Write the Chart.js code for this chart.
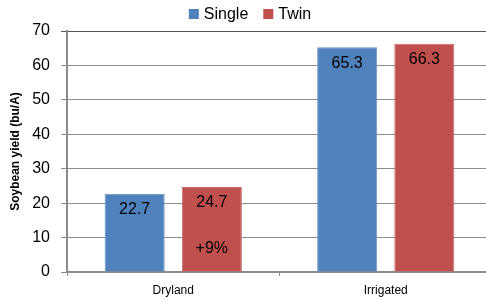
<!DOCTYPE html>
<html>
<head>
<meta charset="utf-8">
<script src="https://cdn.jsdelivr.net/npm/chart.js@4"></script>
<style>
  html, body { margin: 0; padding: 0; background: #fff; overflow: hidden; }
  #wrap { width: 492px; height: 300px; }
</style>
</head>
<body>
<div id="wrap"><canvas id="c" width="492" height="300"></canvas></div>
<script>
'use strict';

/* ── data ── */
const categories  = ['Dryland', 'Irrigated'];
const singleYield = [22.7, 65.3];
const twinYield   = [24.7, 66.3];
const twinNotes   = ['+9%', ''];
const yTicks      = [0, 10, 20, 30, 40, 50, 60, 70];

const FONT  = '"Liberation Sans", Arial, sans-serif';
const GRID  = '#8c8c8c';

/* ── value labels inside bars + note ── */
const barLabels = {
  id: 'barLabels',
  afterDatasetsDraw(chart) {
    const ctx = chart.ctx;
    ctx.save();
    ctx.fillStyle = '#000';
    ctx.font = '16px ' + FONT;
    ctx.textAlign = 'center';
    ctx.textBaseline = 'middle';
    chart.data.datasets.forEach((ds, di) => {
      chart.getDatasetMeta(di).data.forEach((bar, i) => {
        ctx.fillText(ds.data[i].toFixed(1), bar.x, bar.y + 16);
        if (ds.notes && ds.notes[i]) ctx.fillText(ds.notes[i], bar.x, bar.base - 23);
      });
    });
    ctx.restore();
  }
};

/* ── legend drawn by hand so the plot area stays put ── */
const topLegend = {
  id: 'topLegend',
  afterDraw(chart) {
    const ctx = chart.ctx;
    ctx.save();
    ctx.font = '16px ' + FONT;
    ctx.textBaseline = 'middle';
    const items = chart.data.datasets.map(ds => ({ text: ds.label, color: ds.backgroundColor, w: ctx.measureText(ds.label).width }));
    const total = items.reduce((s, it) => s + 15 + it.w, 0) + 15 * (items.length - 1);
    let x = 250 - total / 2;
    items.forEach(it => {
      ctx.fillStyle = it.color;
      ctx.fillRect(x, 9, 10, 10);
      ctx.fillStyle = '#000';
      ctx.fillText(it.text, x + 15, 14.5);
      x += 15 + it.w + 15;
    });
    ctx.restore();
  }
};

new Chart(document.getElementById('c'), {
  type: 'bar',
  data: {
    labels: categories,
    datasets: [
      { label: 'Single', data: singleYield, backgroundColor: '#4f81bd', borderColor: '#6f96c8', borderWidth: 1 },
      { label: 'Twin',   data: twinYield,   backgroundColor: '#c0504d', borderColor: '#cc6c69', borderWidth: 1, notes: twinNotes }
    ]
  },
  options: {
    responsive: false,
    animation: false,
    layout: { padding: { top: 31, right: 0, left: 0, bottom: 0 } },
    datasets: { bar: { categoryPercentage: 0.726, barPercentage: 0.779 } },
    plugins: { legend: { display: false }, tooltip: { enabled: false } },
    scales: {
      x: {
        afterFit(s) { s.height = 28; },
        grid: { offset: true, drawOnChartArea: false, tickLength: 4, color: GRID },
        border: { color: GRID, width: 2 },
        ticks: { color: '#000', font: { size: 12, family: FONT }, padding: 7 }
      },
      y: {
        min: 0, max: 70,
        afterFit(s) { s.width = 67; },
        afterBuildTicks(s) { s.ticks = yTicks.map(v => ({ value: v })); },
        grid: {
          color: ctx => ctx.tick && ctx.tick.value === 70 ? '#555' : GRID,
          lineWidth: 1, tickLength: 6
        },
        border: { color: GRID, width: 2 },
        ticks: { color: '#000', font: { size: 16, family: FONT }, padding: 11 },
        title: { display: true, text: 'Soybean yield (bu/A)', color: '#000', font: { size: 12, weight: 'bold', family: FONT }, padding: { top: 8, bottom: 4 } }
      }
    }
  },
  plugins: [barLabels, topLegend]
});
</script>
</body>
</html>
